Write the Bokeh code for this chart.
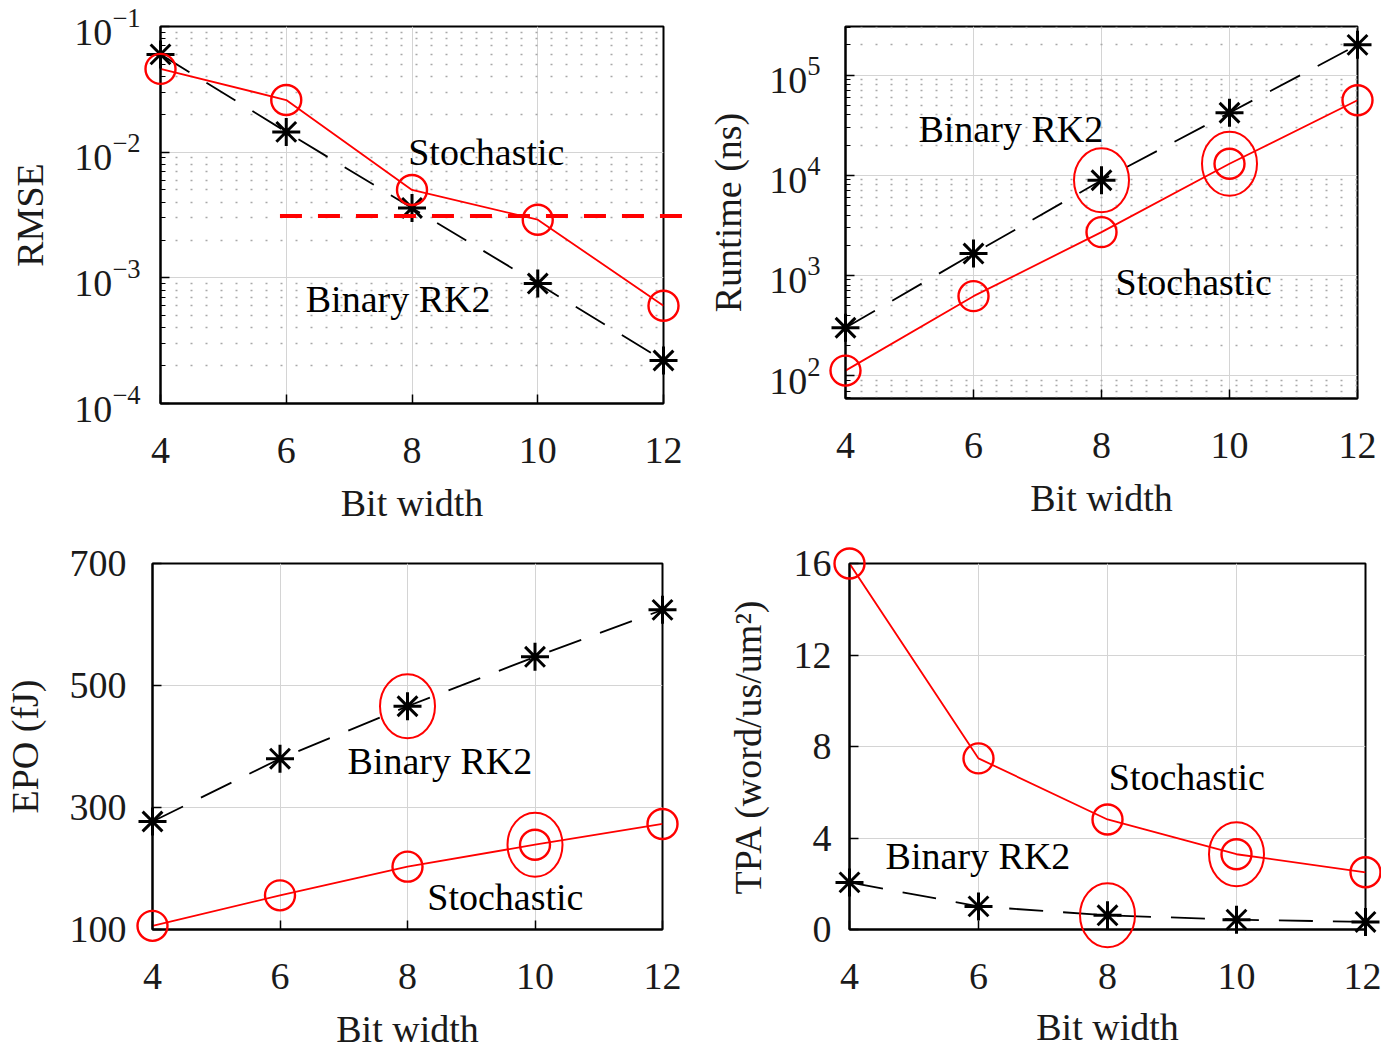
from bokeh.plotting import figure
from bokeh.layouts import column, row
from bokeh.models import Range1d, FixedTicker, Label
from bokeh.embed import file_html
from bokeh.resources import INLINE

# ---------------- data ----------------
bit_width = [4, 6, 8, 10, 12]
x_ticks = [4, 6, 8, 10, 12]

rmse_stochastic = [0.046, 0.026, 0.005, 0.0029, 0.0006]
rmse_binary = [0.06, 0.0145, 0.0036, 0.0009, 0.00022]
rmse_threshold = 0.0031
rmse_threshold_span = [5.9, 12.3]

runtime_stochastic = [112, 620, 2700, 13000, 56000]
runtime_binary = [300, 1650, 8900, 42000, 200000]

epo_stochastic = [106, 156, 203, 239, 273]
epo_binary = [277, 380, 466, 547, 624]

tpa_stochastic = [16.0, 7.48, 4.81, 3.29, 2.50]
tpa_binary = [2.06, 1.01, 0.62, 0.43, 0.33]

rmse_yticks = [1e-4, 1e-3, 1e-2, 1e-1]
runtime_yticks = [1e2, 1e3, 1e4, 1e5]
epo_yticks = [100, 300, 500, 700]
tpa_yticks = [0, 4, 8, 12, 16]

FONT = "Liberation Serif"
FS = "38px"
RED = "#ff0000"
TXT = "#1a1a1a"


def log_minor(lo_exp, hi_exp):
    return [m * 10.0 ** e for e in range(lo_exp, hi_exp) for m in range(2, 10)]


def make_fig(w, h, bl, br, bt, bb, y_range, y_label, yticks, log=False, minor=None,
             lab_standoff=20, tick_standoff=16, x_lab_standoff=16):
    p = figure(width=w, height=h, output_backend="svg", toolbar_location=None,
               x_range=Range1d(4, 12), y_range=y_range,
               y_axis_type="log" if log else "linear")
    p.min_border_left = bl
    p.min_border_right = br
    p.min_border_top = bt
    p.min_border_bottom = bb
    p.background_fill_color = "white"
    p.border_fill_color = "white"
    p.outline_line_color = "black"
    p.outline_line_width = 2
    p.outline_line_alpha = 1

    p.xaxis.ticker = FixedTicker(ticks=x_ticks)
    if minor is not None:
        p.yaxis.ticker = FixedTicker(ticks=yticks, minor_ticks=minor)
    else:
        p.yaxis.ticker = FixedTicker(ticks=yticks)

    for ax in (p.xaxis[0], p.yaxis[0]):
        ax.axis_line_color = "black"
        ax.axis_line_width = 2
        ax.major_tick_in = 9
        ax.major_tick_out = 0
        ax.major_tick_line_color = "black"
        ax.major_tick_line_width = 1.5
        ax.minor_tick_in = 5
        ax.minor_tick_out = 0
        ax.minor_tick_line_color = "black"
        ax.major_label_text_font = FONT
        ax.major_label_text_font_size = FS
        ax.major_label_text_color = TXT
        ax.axis_label_text_font = FONT
        ax.axis_label_text_font_size = FS
        ax.axis_label_text_font_style = "normal"
        ax.axis_label_text_color = TXT
    p.xaxis[0].minor_tick_line_color = None
    p.xaxis[0].axis_label = "Bit width"
    p.xaxis[0].major_label_standoff = 34
    p.xaxis[0].axis_label_standoff = x_lab_standoff
    p.yaxis[0].axis_label = y_label
    p.yaxis[0].major_label_standoff = tick_standoff
    p.yaxis[0].axis_label_standoff = lab_standoff

    p.grid.grid_line_color = "#d4d4d4"
    p.grid.grid_line_width = 1
    if minor is not None:
        p.ygrid.minor_grid_line_color = "#a8a8a8"
        p.ygrid.minor_grid_line_dash = "2 13"
        p.ygrid.minor_grid_line_width = 1.5
    return p


def draw_series(p, stoch, binary):
    p.line(bit_width, binary, line_color="black", line_width=1.8, line_dash="34 20")
    p.scatter(bit_width, binary, marker="asterisk", size=28, line_color="black",
              line_width=3, level="overlay")
    p.line(bit_width, stoch, line_color=RED, line_width=1.8)
    p.scatter(bit_width, stoch, marker="circle", size=30, fill_color=None,
              line_color=RED, line_width=2.4, level="overlay")


def highlight(p, series, i):
    p.ellipse(x=[bit_width[i]], y=[series[i]], width=55, height=64,
              width_units="screen", height_units="screen",
              fill_color=None, line_color=RED, line_width=2, level="overlay")


def label(p, x, y, text):
    p.add_layout(Label(x=x, y=y, y_offset=11, text=text, text_font=FONT,
                       text_font_size=FS, text_color="black",
                       text_baseline="alphabetic", text_align="left"))


# ---- RMSE ----
p1 = make_fig(690, 535, 160, 27, 26, 132, Range1d(1e-4, 1e-1), "RMSE", rmse_yticks,
              log=True, minor=log_minor(-4, -1), lab_standoff=20, tick_standoff=20)
draw_series(p1, rmse_stochastic, rmse_binary)
p1.line(rmse_threshold_span, [rmse_threshold, rmse_threshold],
        line_color=RED, line_width=4, line_dash="22 16", level="overlay")
label(p1, 7.94, 0.0082, "Stochastic")
label(p1, 6.31, 0.00055, "Binary RK2")

# ---- Runtime ----
p2 = make_fig(691, 530, 155, 24, 22, 132, Range1d(59, 3.05e5), "Runtime (ns)", runtime_yticks,
              log=True, minor=log_minor(1, 6), lab_standoff=17, tick_standoff=25)
draw_series(p2, runtime_stochastic, runtime_binary)
highlight(p2, runtime_binary, 2)
highlight(p2, runtime_stochastic, 3)
label(p2, 5.14, 22400, "Binary RK2")
label(p2, 8.22, 660, "Stochastic")

# ---- EPO ----
p3 = make_fig(690, 526, 152, 28, 24, 132, Range1d(100, 700), "EPO (fJ)", epo_yticks,
              lab_standoff=21, tick_standoff=26)
draw_series(p3, epo_stochastic, epo_binary)
highlight(p3, epo_binary, 2)
highlight(p3, epo_stochastic, 3)
label(p3, 7.06, 358, "Binary RK2")
label(p3, 8.31, 135, "Stochastic")

# ---- TPA ----
p4 = make_fig(691, 526, 159, 16, 28, 130, Range1d(0, 16), "TPA (word/us/um²)", tpa_yticks,
              lab_standoff=22, tick_standoff=18, x_lab_standoff=14)
draw_series(p4, tpa_stochastic, tpa_binary)
highlight(p4, tpa_binary, 2)
highlight(p4, tpa_stochastic, 3)
label(p4, 8.02, 6.18, "Stochastic")
label(p4, 4.56, 2.72, "Binary RK2")

layout = column(row(p1, p2), row(p3, p4))
open("out.html", "w").write(file_html(layout, INLINE))
